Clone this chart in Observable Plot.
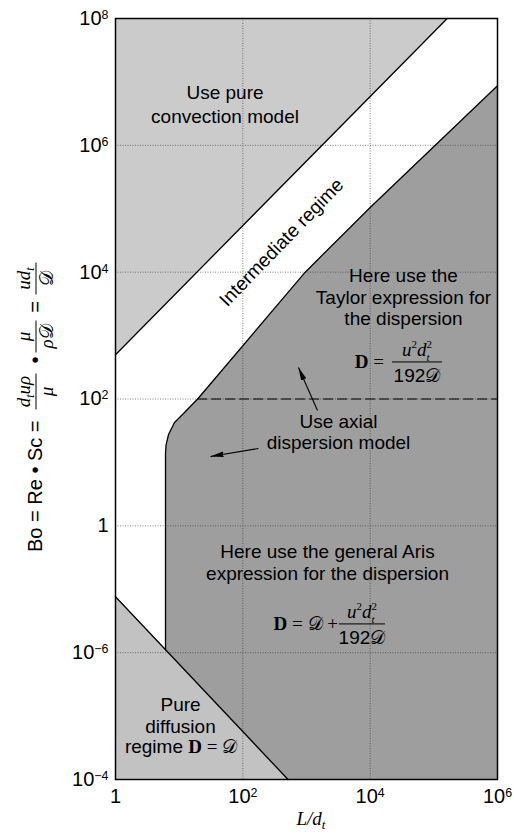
<!DOCTYPE html>
<html><head><meta charset="utf-8">
<script src="https://cdn.jsdelivr.net/npm/d3@7"></script>
<script src="https://cdn.jsdelivr.net/npm/@observablehq/plot@0.6"></script>
<style>html,body{margin:0;padding:0;background:#fff;}</style>
</head><body><div id="chart"></div>
<script>
// ---- axis ticks ----
const xTicks = [1, 1e2, 1e4, 1e6];
const xTickLabels = ["1", "10^2", "10^4", "10^6"];
const yTicks = [1e-4, 1e-2, 1, 1e2, 1e4, 1e6, 1e8];
const yTickLabels = ["10^-4", "10^-6", "1", "10^2", "10^4", "10^6", "10^8"]; // as printed in the original
const gridX = [1e2, 1e4];
const gridY = [1e-2, 1, 1e2, 1e4, 1e6];

// ---- regime boundaries, points as [L/dt, Bo] ----
const convectionLine = [[1, 500], [1.62e5, 1e8]];
const dispersionEdge = [[1e6, 8.7e6], [1e4, 1.05e5], [955, 1e4], [19.5, 100], [11.7, 59], [8.45, 42.7], [6.8, 27.5], [6.21, 18.5], [6.1, 13.8], [6.1, 0.0111]];
const diffusionLine = [[1, 0.076], [513, 1e-4]];
const taylorLimit = [[19.5, 100], [1e6, 100]];

// ---- annotation anchors (data coordinates) ----
const convectionNote = [{text: "Use pure\nconvection model", x: 52.5, y: 4.57e6}];
const notes = [
  {text: "Here use the\nTaylor expression for\nthe dispersion", x: 33400, y: 4060},
  {text: "Use axial\ndispersion model", x: 3180, y: 30.8},
  {text: "Here use the general Aris\nexpression for the dispersion", x: 2140, y: 0.267},
  {text: "Pure\ndiffusion", x: 10.5, y: 0.00104}
];
const regimeNote = [{text: "Intermediate regime", x: 405, y: 29400}];
const arrows = [
  {x1: 1490, y1: 65.9, x2: 748, y2: 314},
  {x1: 176, y1: 16.6, x2: 31.0, y2: 12.4}
];
const taylorFormulaAt = [55300, 377];
const arisFormulaAt = [7570, 0.0279];
const diffusionFormulaAt = [10.9, 2.58e-4];

// ---- regions built from the boundaries ----
const convectionRegion = [...convectionLine, [1, 1e8]];
const dispersionRegion = [...dispersionEdge, diffusionLine[1], [1e6, 1e-4]];
const diffusionRegion = [...diffusionLine, [1, 1e-4]];

const SANS = "'Liberation Sans', Arial, sans-serif";
const SERIF = "'Liberation Serif', 'Times New Roman', serif";
const SCRIPT = "'DejaVu Serif', 'DejaVu Sans', serif";

const fmt = (ticks, labels) => d => {
  const i = ticks.findIndex(t => Math.abs(Math.log10(t) - Math.log10(d)) < 1e-6);
  return i < 0 ? "" : labels[i];
};
const P = {x: d => d[0], y: d => d[1]};

const plot = Plot.plot({
  width: 514, height: 835,
  marginLeft: 115, marginRight: 17, marginTop: 18, marginBottom: 56,
  style: {fontFamily: SANS, fontSize: "20px", background: "white", color: "black"},
  x: {type: "log", domain: [1, 1e6], ticks: xTicks, tickFormat: fmt(xTicks, xTickLabels), tickSize: 0, tickPadding: 9, label: null},
  y: {type: "log", domain: [1e-4, 1e8], ticks: yTicks, tickFormat: fmt(yTicks, yTickLabels), tickSize: 0, tickPadding: 7, label: null},
  marks: [
    Plot.line(convectionRegion, {...P, fill: "#cbcbcb", stroke: "none"}),
    Plot.line(dispersionRegion, {...P, fill: "#9e9e9e", stroke: "none"}),
    Plot.line(diffusionRegion, {...P, fill: "#c2c2c2", stroke: "none"}),
    Plot.ruleX(gridX, {stroke: "#333", strokeWidth: 0.8, strokeDasharray: "1,1.5", strokeOpacity: 0.75}),
    Plot.ruleY(gridY, {stroke: "#333", strokeWidth: 0.8, strokeDasharray: "1,1.5", strokeOpacity: 0.75}),
    Plot.line(taylorLimit, {...P, stroke: "black", strokeWidth: 1.2, strokeDasharray: "9,5"}),
    Plot.line(convectionLine, {...P, stroke: "black", strokeWidth: 1.3}),
    Plot.line(dispersionEdge, {...P, stroke: "black", strokeWidth: 1.3}),
    Plot.line(diffusionLine, {...P, stroke: "black", strokeWidth: 1.3}),
    Plot.text(convectionNote, {x: "x", y: "y", text: "text", fontSize: 19, lineHeight: 1.25, fill: "black", fontFamily: SANS}),
    Plot.text(notes, {x: "x", y: "y", text: "text", fontSize: 19, lineHeight: 1.13, fill: "black", fontFamily: SANS}),
    Plot.text(regimeNote, {x: "x", y: "y", text: "text", fontSize: 19, rotate: -46, fill: "black", fontFamily: SANS}),
    Plot.link(arrows, {x1: "x1", y1: "y1", x2: "x2", y2: "y2", stroke: "black", strokeWidth: 1.1}),
    Plot.frame({stroke: "black", strokeWidth: 1.5})
  ]
});
document.getElementById("chart").appendChild(plot);

const svg = d3.select(plot);
const sx = plot.scale("x"), sy = plot.scale("y");

// superscript tick labels
svg.selectAll('g[aria-label^="x-axis"] text, g[aria-label^="y-axis"] text').each(function () {
  const s = this.textContent;
  d3.select(this).attr("font-size", 20).attr("font-family", SANS).attr("fill", "black");
  if (!s.includes("^")) return;
  const [base, exp] = s.split("^");
  this.textContent = "";
  d3.select(this).append("tspan").text(base);
  d3.select(this).append("tspan").attr("dy", "-0.48em").attr("font-size", "0.62em").text(exp.replace("-", "\u2212"));
});

// filled arrow heads
const defs = svg.append("defs");
defs.append("marker").attr("id", "ahead").attr("markerUnits", "userSpaceOnUse")
  .attr("viewBox", "0 -4 13 8").attr("refX", 13).attr("refY", 0)
  .attr("markerWidth", 13).attr("markerHeight", 8).attr("orient", "auto")
  .append("path").attr("d", "M0,-2.8L13,0L0,2.8Z").attr("fill", "black");
svg.selectAll('g[aria-label="link"] path').attr("marker-end", "url(#ahead)");

function rich(parent, x, y, pieces, opts = {}) {
  const t = parent.append("text").attr("x", x).attr("y", y)
    .attr("text-anchor", opts.anchor || "middle").attr("font-size", opts.size || 19)
    .attr("font-family", opts.family || SANS).attr("fill", "black");
  for (const p of pieces) {
    const s = t.append("tspan").text(p.t);
    if (p.f) s.attr("font-family", p.f);
    if (p.i) s.attr("font-style", "italic");
    if (p.b) s.attr("font-weight", "bold");
    if (p.s) s.attr("font-size", p.s);
    if (p.dx) s.attr("dx", p.dx);
    if (p.dy) s.attr("dy", p.dy);
  }
  return t;
}
const scriptD = {t: "\u{1D49F}", f: SCRIPT};
const boldD = {t: "D", f: SERIF, b: 1};
const numer = [{t: "u", f: SERIF, i: 1}, {t: "2", f: SERIF, s: 11, dy: -8}, {t: "d", f: SERIF, i: 1, dy: 8},
  {t: "t", f: SERIF, i: 1, s: 11, dy: 5}, {t: "2", f: SERIF, s: 11, dx: -3.2, dy: -13}];
const denom = [{t: "192"}, scriptD];
const ink = svg.append("g").attr("class", "annotations");

function fraction(g, cx, cy, num, den, half) {
  rich(g, cx, cy - 6, num);
  rich(g, cx, cy + 20, den);
  g.append("line").attr("x1", cx - half).attr("x2", cx + half).attr("y1", cy).attr("y2", cy)
    .attr("stroke", "black").attr("stroke-width", 1);
}
{ // Taylor
  const bx = sx.apply(taylorFormulaAt[0]), by = sy.apply(taylorFormulaAt[1]);
  rich(ink, bx - 33, by + 6, [boldD, {t: " =", f: SERIF}], {anchor: "end"});
  fraction(ink, bx, by, numer, denom, 25);
}
{ // Aris
  const bx = sx.apply(arisFormulaAt[0]), by = sy.apply(arisFormulaAt[1]);
  rich(ink, bx - 24, by + 6, [boldD, {t: " = ", f: SERIF}, scriptD, {t: " +", f: SERIF}], {anchor: "end"});
  fraction(ink, bx, by, numer, denom, 23);
}
{ // pure diffusion
  const x = sx.apply(diffusionFormulaAt[0]), y = sy.apply(diffusionFormulaAt[1]);
  rich(ink, x, y, [{t: "regime "}, boldD, {t: " = ", f: SERIF}, scriptD]);
}
// x axis label
rich(svg, (115 + 497) / 2 + 5, 825, [{t: "L/d", f: SERIF, i: 1}, {t: "t", f: SERIF, i: 1, s: 13, dy: 4}], {size: 19});

// y axis label (rotated)
{
  const g = svg.append("g").attr("transform", "translate(42,552) rotate(-90)");
  rich(g, 0, 0, [{t: "Bo = Re \u2022 Sc ="}], {anchor: "start", size: 20});
  const fr = (cx, num, den, half) => {
    rich(g, cx, -12, num, {size: 19});
    rich(g, cx, 11, den, {size: 19});
    g.append("line").attr("x1", cx - half).attr("x2", cx + half).attr("y1", -6).attr("y2", -6)
      .attr("stroke", "black").attr("stroke-width", 1);
  };
  fr(160.5, [{t: "d", f: SERIF, i: 1}, {t: "t", f: SERIF, i: 1, s: 12, dy: 4}, {t: "u\u03C1", f: SERIF, i: 1, dy: -4}],
     [{t: "\u03BC", f: SERIF, i: 1}], 18);
  rich(g, 192, 0, [{t: "\u2022"}], {size: 20});
  fr(215.5, [{t: "\u03BC", f: SERIF, i: 1}], [{t: "\u03C1", f: SERIF, i: 1}, scriptD], 16);
  rich(g, 245, 0, [{t: "="}], {size: 20});
  fr(273.5, [{t: "ud", f: SERIF, i: 1}, {t: "t", f: SERIF, i: 1, s: 12, dy: 4}], [scriptD], 16);
}
</script>
</body></html>
